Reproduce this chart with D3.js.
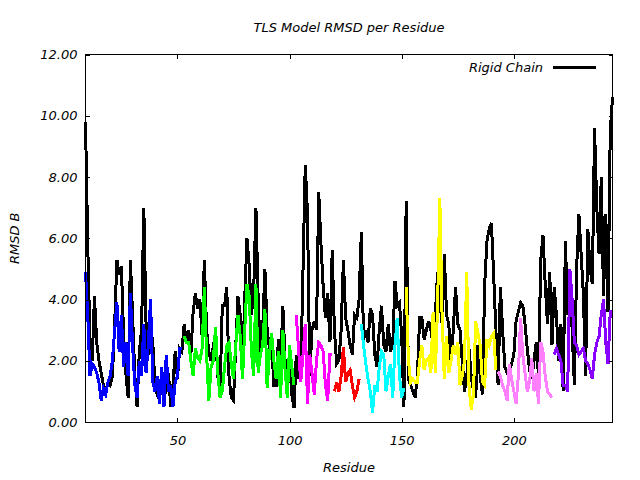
<!DOCTYPE html>
<html><head><meta charset="utf-8">
<script src="https://cdn.jsdelivr.net/npm/d3@7/dist/d3.min.js"></script>
<style>body{margin:0;background:#fff}svg{display:block}</style>
</head><body><svg id="chart" width="640" height="480"></svg>
<script>
// ---- data ----
const xTicks = [50, 100, 150, 200];
const yTicks = [0, 2, 4, 6, 8, 10, 12];
const legendLabel = "Rigid Chain";

const rigidStart = 9;
const rigidChain = [
 9.8,5.8,2.6,2.0,4.1,2.6,2.0,1.6,1.2,1.0,1.3,1.2,1.5,3.2,5.3,4.8,5.1,2.8,1.6,0.8,
 5.3,3.5,1.5,0.5,2.3,3.0,7.0,3.2,2.2,3.1,2.6,1.2,0.9,0.7,1.5,0.9,1.0,1.6,0.5,1.2,
 2.3,1.4,2.4,2.3,3.2,2.6,3.0,2.2,3.6,4.2,3.7,4.0,2.8,5.3,3.0,2.3,2.0,2.5,2.9,1.5,
 1.0,3.8,3.8,4.4,1.5,0.8,0.7,2.5,4.1,3.5,1.8,4.0,6.0,5.1,3.5,4.3,7.0,4.0,2.2,3.0,
 5.0,3.0,2.4,2.6,1.2,1.2,2.7,1.8,3.8,2.0,1.3,2.0,0.9,0.45,2.2,1.4,1.6,5.0,8.4,6.8,
 1.5,3.0,3.3,3.0,7.5,5.8,4.4,3.4,4.2,2.6,5.6,3.0,1.9,2.0,3.0,5.3,3.4,3.0,2.5,2.2,
 3.5,3.4,4.0,6.2,2.7,3.0,2.6,3.7,3.5,2.2,1.8,3.0,3.8,2.5,2.3,3.2,2.3,2.5,4.6,3.8,
 3.9,2.8,0.5,7.2,1.4,1.2,1.0,0.8,1.5,3.4,3.4,2.7,3.0,3.3,3.0,2.5,3.5,4.9,4.0,3.2,
 5.5,3.5,3.2,2.0,3.0,4.4,3.2,3.0,2.0,1.0,1.5,2.4,1.5,1.0,0.8,2.5,1.5,0.9,4.5,5.9,
 6.3,6.5,4.8,3.0,1.2,4.4,3.0,1.8,1.6,1.6,1.9,2.2,3.3,3.6,3.9,3.8,3.2,2.4,1.7,1.4,
 2.0,2.6,1.5,5.3,6.1,4.5,3.2,4.9,2.5,4.4,3.5,2.0,3.2,1.0,5.9,3.5,4.9,3.0,1.2,5.0,
 6.8,5.5,4.2,1.5,6.3,5.0,4.5,9.6,7.0,5.5,8.0,4.1,6.8,3.6,9.5,10.6
];

const blueStart = 9;
const blueVals = [
 4.9,3.5,1.5,1.9,1.8,1.6,1.3,0.7,1.1,0.9,1.3,1.5,2.0,3.0,3.9,2.3,3.5,1.8,2.6,1.5,
 4.2,2.5,1.2,0.8,2.0,1.5,3.2,1.6,2.5,4.0,1.3,1.0,1.5,0.6,1.8,0.5,2.2,1.0,1.2,0.5,
 1.3,1.5,2.4,2.4
];
const greenStart = 53;
const greenVals = [
 2.8,2.6,2.6,2.0,1.5,2.4,2.1,2.0,2.4,4.4,2.2,0.7,1.8,2.0,3.1,1.6,0.8,1.0,1.8,2.5,
 2.6,1.9,1.4,2.5,3.5,2.8,1.4,3.0,4.5,4.1,2.3,1.5,4.5,1.6,2.2,2.5,3.7,1.1,2.2,2.9,
 2.0,1.4,2.3,0.8,3.0,1.7,0.8,2.5,1.8,1.2
];
const magentaStart = 103;
const magentaVals = [3.5,2.4,1.3,2.2,3.2,0.6,2.2,1.6,0.9,2.0,2.6,2.5,2.3,1.2,0.7,2.2,2.2];
const redStart = 120;
const redVals = [1.0,1.3,1.0,1.5,2.45,1.3,1.6,1.7,1.2,0.8,1.0,1.4];
const cyanStart = 132;
const cyanVals = [3.2,2.5,1.9,1.4,1.0,0.3,1.2,1.0,1.8,2.3,2.2,1.0,1.5,1.9,0.8,2.5,3.4,1.5,0.8,1.1];
const yellowStart = 152;
const yellowVals = [
 4.4,2.0,1.3,1.4,1.3,1.3,2.0,2.5,1.7,2.0,2.1,1.6,3.6,1.6,3.8,7.3,3.5,1.4,2.8,1.6,
 2.0,2.5,2.2,2.6,1.2,1.5,2.0,4.9,1.2,0.4,0.9,3.3,2.9,2.5,1.3,1.2,2.7,2.5,2.8,2.9,1.7
];
const pinkStart = 193;
const pinkVals = [1.65,1.5,1.2,1.0,0.7,1.9,1.4,1.0,0.6,1.5,3.4,2.2,1.6,1.0,1.3,2.1,1.0,1.6,0.6,2.6,2.3,1.5,1.0,0.9,0.8];
const purpleStart = 218;
const purpleVals = [2.2,2.4,2.2,2.0,1.2,1.2,1.0,5.0,4.0,2.6,2.5,2.2,2.3,2.4,2.0,1.9,1.7,1.4,2.2,2.6,2.8,3.5,4.0,2.6,1.9,3.6,3.6];

const segmentColors = ["#0000ff","#00ff00","#ff00ff","#ff0000","#00ffff","#ffff00","#ff80ff","#8800ff"];

// ---- chart ----
const FONT = "DejaVu Sans, sans-serif";
const svg = d3.select("#chart");
const L = 85.5, R = 612.5, T = 54.5, B = 422;
const x = d3.scaleLinear().domain([9, 244]).range([L, R]);
const y = d3.scaleLinear().domain([0, 12]).range([B, T]);

function toPts(start, vals){ return vals.map((v,i)=>({r:start+i, v})); }
const line = d3.line().x(d=>x(d.r)).y(d=>y(d.v));

const segs = [
 toPts(blueStart, blueVals), toPts(greenStart, greenVals), toPts(magentaStart, magentaVals),
 toPts(redStart, redVals), toPts(cyanStart, cyanVals), toPts(yellowStart, yellowVals),
 toPts(pinkStart, pinkVals), toPts(purpleStart, purpleVals)
];

const plot = svg.append("g");
plot.append("path").datum(toPts(rigidStart, rigidChain))
  .attr("d", line).attr("fill","none").attr("stroke","#000").attr("stroke-width",3)
  .attr("shape-rendering","crispEdges");
segs.forEach((s,i)=>{
  plot.append("path").datum(s).attr("d", line).attr("fill","none")
    .attr("stroke", segmentColors[i]).attr("stroke-width",3)
    .attr("shape-rendering","crispEdges");
});

// axes
function styleAxis(g){
  g.select(".domain").remove();
  g.selectAll("line").attr("stroke","#000").attr("shape-rendering","crispEdges");
  g.selectAll("text").attr("font-family",FONT).attr("font-style","italic")
    .attr("font-size",13).attr("fill","#000");
}
svg.append("g").attr("transform",`translate(0,${B})`)
  .call(d3.axisBottom(x).tickValues(xTicks).tickSize(-4).tickPadding(14).tickFormat(d3.format("d")))
  .call(styleAxis);
svg.append("g").attr("transform",`translate(0,${T})`)
  .call(d3.axisTop(x).tickValues(xTicks).tickSize(-4).tickFormat(""))
  .call(styleAxis);
svg.append("g").attr("transform",`translate(${L},0)`)
  .call(d3.axisLeft(y).tickValues(yTicks).tickSize(-4).tickPadding(8).tickFormat(d3.format(".2f")))
  .call(styleAxis);
svg.append("g").attr("transform",`translate(${R},0)`)
  .call(d3.axisRight(y).tickValues(yTicks).tickSize(-4).tickFormat(""))
  .call(styleAxis);

svg.append("rect").attr("x",L).attr("y",T).attr("width",R-L).attr("height",B-T)
  .attr("fill","none").attr("stroke","#000").attr("shape-rendering","crispEdges");

// texts
svg.append("text").attr("x",(L+R)/2).attr("y",32).attr("text-anchor","middle")
  .attr("font-family",FONT).attr("font-style","italic").attr("font-size",13)
  .text("TLS Model RMSD per Residue");
svg.append("text").attr("x",(L+R)/2).attr("y",472).attr("text-anchor","middle")
  .attr("font-family",FONT).attr("font-style","italic").attr("font-size",13)
  .text("Residue");
svg.append("text").attr("transform",`translate(19,${(T+B)/2}) rotate(-90)`).attr("text-anchor","middle")
  .attr("font-family",FONT).attr("font-style","italic").attr("font-size",13)
  .text("RMSD B");

// legend
svg.append("text").attr("x",543).attr("y",72).attr("text-anchor","end")
  .attr("font-family",FONT).attr("font-style","italic").attr("font-size",13)
  .text(legendLabel);
svg.append("line").attr("x1",553).attr("x2",596).attr("y1",67).attr("y2",67)
  .attr("stroke","#000").attr("stroke-width",3).attr("shape-rendering","crispEdges");
</script></body></html>
